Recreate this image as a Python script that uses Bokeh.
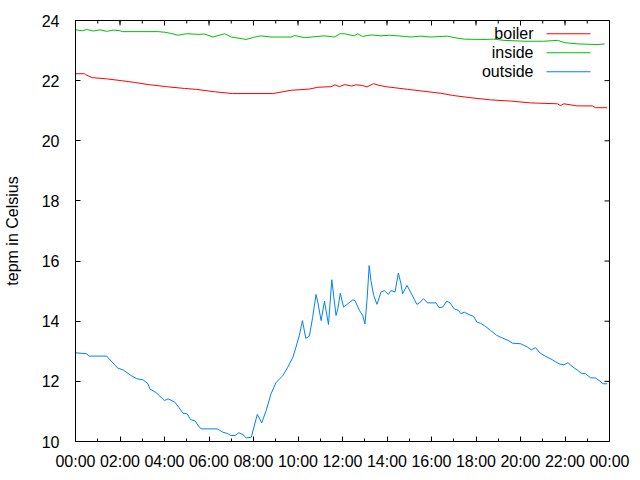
import math
from bokeh.plotting import figure
from bokeh.models import Range1d, FixedTicker, Label, BoxAnnotation
from bokeh.embed import file_html
from bokeh.resources import INLINE

# ---- data (hours of day, temperature in Celsius) ----
boiler_h = [0.0, 0.4, 0.45, 0.75, 1.39, 2.06, 2.66, 3.26, 4.08, 4.9, 5.43, 6.25, 7.07, 8.87,
            9.69, 10.51, 10.89, 11.49, 11.66, 11.86, 12.1, 12.4, 12.6, 12.9, 13.1, 13.4, 13.6,
            13.95, 14.93, 16.42, 16.94, 17.77, 18.66, 19.56, 20.46, 21.66, 21.8, 21.95, 22.55,
            23.23, 23.37, 23.9]
boiler_v = [22.23, 22.23, 22.2, 22.1, 22.06, 22.0, 21.94, 21.87, 21.8, 21.74, 21.71, 21.63, 21.57, 21.57,
            21.68, 21.72, 21.78, 21.8, 21.86, 21.8, 21.87, 21.82, 21.86, 21.84, 21.79, 21.9, 21.85,
            21.8, 21.71, 21.58, 21.51, 21.43, 21.36, 21.32, 21.26, 21.23, 21.17, 21.23, 21.16,
            21.16, 21.1, 21.1]

inside_h = [0.0, 0.3, 0.5, 0.8, 1.1, 1.4, 1.7, 2.0, 2.1, 3.71, 4.0, 4.3, 4.6, 4.98, 5.5, 5.8,
            6.18, 6.7, 7.0, 7.67, 8.0, 8.34, 8.79, 9.69, 9.84, 10.29, 11.18, 11.63, 11.9, 12.08,
            12.53, 12.68, 12.9, 13.3, 13.73, 14.1, 14.48, 14.8, 15.07, 15.5, 15.97, 16.72, 17.1,
            17.47, 18.36, 18.8, 19.26, 20.16, 21.05, 21.66, 22.0, 22.63, 23.45, 23.78]
inside_v = [23.69, 23.66, 23.70, 23.65, 23.69, 23.64, 23.68, 23.66, 23.63, 23.63, 23.61, 23.57, 23.51,
            23.56, 23.54, 23.55, 23.45, 23.56, 23.45, 23.37, 23.44, 23.49, 23.45, 23.45, 23.50, 23.43,
            23.49, 23.45, 23.56, 23.56, 23.49, 23.56, 23.47, 23.52, 23.49, 23.51, 23.49, 23.47, 23.45,
            23.48, 23.45, 23.48, 23.42, 23.38, 23.37, 23.38, 23.34, 23.31, 23.31, 23.34, 23.26, 23.22,
            23.2, 23.22]

outside_h = [0.0, 0.5, 0.6, 1.4, 1.9, 2.14, 2.44, 2.74, 3.04, 3.26, 3.34, 3.63, 4.0, 4.16, 4.46,
             4.64, 4.83, 5.02, 5.17, 5.38, 5.58, 5.68, 6.37, 6.62, 6.85, 6.97, 7.18, 7.34, 7.52,
             7.67, 7.9, 8.17, 8.37, 8.57, 8.79, 9.02, 9.32, 9.54, 9.77, 9.91, 10.06, 10.2, 10.35,
             10.51, 10.66, 10.81, 10.89, 11.04, 11.19, 11.26, 11.37, 11.52, 11.61, 11.71, 11.79,
             11.9, 12.05, 12.46, 12.56, 12.76, 12.91, 13.01, 13.1, 13.2, 13.28, 13.4, 13.55, 13.73,
             13.88, 14.06, 14.18, 14.36, 14.51, 14.63, 14.7, 14.9, 15.1, 15.34, 15.45, 15.64, 15.82,
             16.2, 16.34, 16.5, 16.69, 16.84, 17.02, 17.21, 17.32, 17.47, 17.69, 17.89, 18.04, 18.21,
             18.44, 18.66, 18.93, 19.19, 19.44, 19.64, 20.01, 20.31, 20.49, 20.68, 20.88, 21.13,
             21.43, 21.73, 21.95, 22.13, 22.4, 22.55, 22.73, 22.92, 23.15, 23.37, 23.57, 23.71, 23.9]
outside_v = [12.95, 12.92, 12.84, 12.84, 12.44, 12.38, 12.22, 12.09, 12.05, 11.92, 11.75, 11.62, 11.36,
             11.42, 11.31, 11.14, 10.94, 10.92, 10.73, 10.68, 10.46, 10.42, 10.42, 10.31, 10.26, 10.20,
             10.20, 10.29, 10.23, 10.12, 10.14, 10.90, 10.62, 11.03, 11.59, 11.97, 12.19, 12.47, 12.80,
             13.14, 13.53, 14.02, 13.43, 13.50, 14.13, 14.89, 14.63, 14.02, 14.67, 14.36, 13.89, 15.38,
             14.80, 14.19, 14.41, 14.93, 14.47, 14.71, 14.69, 14.36, 14.19, 13.91, 14.69, 15.85, 15.35,
             14.86, 14.56, 14.97, 15.02, 14.89, 15.02, 14.97, 15.60, 15.24, 14.91, 15.19, 14.91, 14.56,
             14.60, 14.75, 14.61, 14.61, 14.45, 14.47, 14.67, 14.60, 14.41, 14.36, 14.25, 14.30, 14.22,
             14.16, 13.97, 13.93, 13.82, 13.69, 13.53, 13.44, 13.36, 13.27, 13.25, 13.14, 13.05, 13.12,
             12.94, 12.83, 12.72, 12.58, 12.55, 12.62, 12.45, 12.38, 12.27, 12.25, 12.12, 12.11, 12.01,
             11.92, 11.92]

x_tick_hours = [0, 2, 4, 6, 8, 10, 12, 14, 16, 18, 20, 22, 24]
x_tick_labels = ["00:00", "02:00", "04:00", "06:00", "08:00", "10:00", "12:00",
                 "14:00", "16:00", "18:00", "20:00", "22:00", "00:00"]
x_minor_hours = list(range(0, 25))
y_ticks = [10, 12, 14, 16, 18, 20, 22, 24]

series_names = ["boiler", "inside", "outside"]
series_colors = ["#ff0000", "#00c000", "#0080ff"]

FONT = "Liberation Sans"
FS = "16px"
X0, X1, Y0, Y1 = 0, 24, 10, 24

p = figure(width=640, height=480, output_backend="svg", toolbar_location=None,
           x_range=Range1d(X0, X1), y_range=Range1d(Y0, Y1),
           min_border_left=74, min_border_right=31, min_border_top=20, min_border_bottom=39)
p.xgrid.visible = False
p.ygrid.visible = False
p.outline_line_color = "black"
p.outline_line_alpha = 1.0
p.background_fill_color = "white"
p.border_fill_color = "white"

p.line(boiler_h, boiler_v, line_color=series_colors[0], line_width=1)
p.line(inside_h, inside_v, line_color=series_colors[1], line_width=1)
p.line(outside_h, outside_v, line_color=series_colors[2], line_width=1)

overrides = {h: lab for h, lab in zip(x_tick_hours, x_tick_labels)}

for ax, ticker in ((p.xaxis[0], FixedTicker(ticks=x_tick_hours, minor_ticks=x_minor_hours)),
                   (p.yaxis[0], FixedTicker(ticks=y_ticks, minor_ticks=[]))):
    ax.ticker = ticker
    ax.axis_line_color = "black"
    ax.major_tick_in = 5
    ax.major_tick_out = 0
    ax.minor_tick_in = 3
    ax.minor_tick_out = 0
    ax.major_tick_line_color = "black"
    ax.minor_tick_line_color = "black"
    ax.major_label_text_font = FONT
    ax.major_label_text_font_size = FS
    ax.major_label_text_color = "black"

p.xaxis[0].major_label_overrides = overrides
p.xaxis[0].major_label_standoff = 11

p.yaxis[0].major_label_standoff = 16
p.yaxis[0].axis_label = "tepm in Celsius"
p.yaxis[0].axis_label_text_font = FONT
p.yaxis[0].axis_label_text_font_size = FS
p.yaxis[0].axis_label_text_font_style = "normal"
p.yaxis[0].axis_label_text_color = "black"
p.yaxis[0].axis_label_standoff = 18

# mirrored inward ticks on the top and right border (gnuplot style)
p.ray(x=x_tick_hours, y=[Y1] * len(x_tick_hours), length=5, length_units="screen",
      angle=-math.pi / 2, line_color="black", line_width=1)
p.ray(x=x_minor_hours, y=[Y1] * len(x_minor_hours), length=3, length_units="screen",
      angle=-math.pi / 2, line_color="black", line_width=1)
p.ray(x=[X1] * len(y_ticks), y=y_ticks, length=5, length_units="screen",
      angle=math.pi, line_color="black", line_width=1)

# legend (gnuplot style: label right-aligned, sample to its right); frame-relative screen units
frame_h = 480 - 20 - 39
for i, (name, col) in enumerate(zip(series_names, series_colors)):
    ys = frame_h - 13.3 - 19 * i
    p.add_layout(Label(x=458, y=ys, x_units="screen", y_units="screen", text=name,
                       text_align="right", text_baseline="middle", text_font=FONT,
                       text_font_size=FS, text_color="black"))
    p.add_layout(BoxAnnotation(left=471, right=515, top=ys + 0.5, bottom=ys - 0.5,
                               left_units="screen", right_units="screen",
                               top_units="screen", bottom_units="screen",
                               fill_color=col, fill_alpha=1.0, line_color=None))

open("out.html", "w").write(file_html(p, INLINE))
